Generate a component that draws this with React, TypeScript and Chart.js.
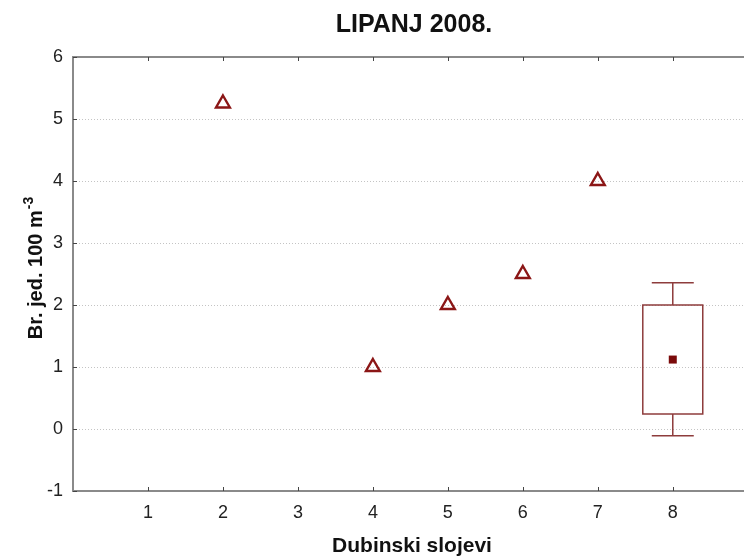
import React, { useEffect, useRef } from "react";
import { Chart, registerables } from "chart.js";

Chart.register(...registerables);

// ---- data ----
const CHART_TITLE = "LIPANJ 2008.";
const X_TITLE = "Dubinski slojevi";
const Y_TITLE_MAIN = "Br. jed. 100 m";
const Y_TITLE_SUP = "-3";

const X_TICKS = [1, 2, 3, 4, 5, 6, 7, 8];
const Y_TICKS = [-1, 0, 1, 2, 3, 4, 5, 6];
const X_MIN = 0;
const X_MAX = 8.95;
const Y_MIN = -1;
const Y_MAX = 6;

// layers with a single observation (drawn as triangles)
const SINGLE_X = [2, 4, 5, 6, 7];
const SINGLE_Y = [5.25, 1.0, 2.0, 2.5, 4.0];

// layer with a box (mean, box, whiskers)
const BOX_X = [8];
const BOX_LOW = [-0.11];
const BOX_Q1 = [0.24];
const BOX_Q3 = [2.0];
const BOX_HIGH = [2.36];
const BOX_MEAN = [1.12];

// ---- styles ----
const FONT = '"Liberation Sans", Arial, Helvetica, sans-serif';
const MARK_COLOR = "#8b1616";
const MEAN_COLOR = "#7a0a0a";
const BOX_COLOR = "#8e3c3c";
const FRAME_COLOR = "#8a8a8a";
const GRID_COLOR = "#c4c4c4";
const BOX_HALF_WIDTH = 0.4;
const CAP_HALF_WIDTH = 0.28;

const boxPlugin = {
  id: "boxWhisker",
  beforeDatasetsDraw(chart: any) {
    const { ctx, scales } = chart;
    const x = scales.x;
    const y = scales.y;
    ctx.save();
    ctx.strokeStyle = BOX_COLOR;
    ctx.lineWidth = 1.5;
    BOX_X.forEach((bx, i) => {
      const cx = x.getPixelForValue(bx);
      const half = x.getPixelForValue(bx + BOX_HALF_WIDTH) - cx;
      const capHalf = x.getPixelForValue(bx + CAP_HALF_WIDTH) - cx;
      const yq1 = y.getPixelForValue(BOX_Q1[i]);
      const yq3 = y.getPixelForValue(BOX_Q3[i]);
      const ylo = y.getPixelForValue(BOX_LOW[i]);
      const yhi = y.getPixelForValue(BOX_HIGH[i]);
      ctx.beginPath();
      ctx.rect(cx - half, yq3, 2 * half, yq1 - yq3);
      ctx.moveTo(cx, yq3);
      ctx.lineTo(cx, yhi);
      ctx.moveTo(cx - capHalf, yhi);
      ctx.lineTo(cx + capHalf, yhi);
      ctx.moveTo(cx, yq1);
      ctx.lineTo(cx, ylo);
      ctx.moveTo(cx - capHalf, ylo);
      ctx.lineTo(cx + capHalf, ylo);
      ctx.stroke();
    });
    ctx.restore();
  },
};

const framePlugin = {
  id: "frameAndTitles",
  afterDraw(chart: any) {
    const { ctx, chartArea, scales } = chart;
    const { left, right, top, bottom } = chartArea;
    const x = scales.x;
    const y = scales.y;
    ctx.save();
    // frame (left, top, bottom)
    ctx.strokeStyle = FRAME_COLOR;
    ctx.lineWidth = 2;
    ctx.beginPath();
    ctx.moveTo(right, top);
    ctx.lineTo(left, top);
    ctx.lineTo(left, bottom);
    ctx.lineTo(right, bottom);
    ctx.stroke();
    // inward tick marks
    ctx.strokeStyle = "#444";
    ctx.lineWidth = 1;
    ctx.beginPath();
    X_TICKS.forEach((v) => {
      const px = Math.round(x.getPixelForValue(v)) + 0.5;
      ctx.moveTo(px, bottom);
      ctx.lineTo(px, bottom - 4);
      ctx.moveTo(px, top);
      ctx.lineTo(px, top + 4);
    });
    Y_TICKS.forEach((v) => {
      const py = Math.round(y.getPixelForValue(v)) + 0.5;
      ctx.moveTo(left, py);
      ctx.lineTo(left + 4, py);
    });
    ctx.stroke();

    // chart title
    ctx.fillStyle = "#111";
    ctx.textAlign = "center";
    ctx.textBaseline = "alphabetic";
    ctx.font = `bold 25px ${FONT}`;
    ctx.fillText(CHART_TITLE, 414, 32);

    // x axis title
    ctx.font = `bold 21px ${FONT}`;
    ctx.fillText(X_TITLE, 412, 552);

    // y axis title (rotated, with superscript)
    ctx.font = `bold 20px ${FONT}`;
    const wMain = ctx.measureText(Y_TITLE_MAIN).width;
    ctx.font = `bold 14px ${FONT}`;
    const wSup = ctx.measureText(Y_TITLE_SUP).width;
    const total = wMain + wSup + 1;
    ctx.translate(42, 268);
    ctx.rotate(-Math.PI / 2);
    ctx.textAlign = "left";
    ctx.font = `bold 20px ${FONT}`;
    ctx.fillText(Y_TITLE_MAIN, -total / 2, 0);
    ctx.font = `bold 14px ${FONT}`;
    ctx.fillText(Y_TITLE_SUP, -total / 2 + wMain + 1, -9);
    ctx.restore();
  },
};

export default function App() {
  const canvasRef = useRef<HTMLCanvasElement | null>(null);

  useEffect(() => {
    const canvas = canvasRef.current;
    if (!canvas) return;
    const chart = new Chart(canvas, {
      type: "scatter",
      data: {
        datasets: [
          {
            label: "single",
            data: SINGLE_X.map((v, i) => ({ x: v, y: SINGLE_Y[i] })),
            pointStyle: "triangle",
            pointRadius: 8,
            pointHoverRadius: 8,
            borderWidth: 2.4,
            borderColor: MARK_COLOR,
            backgroundColor: "rgba(0,0,0,0)",
            showLine: false,
          },
          {
            label: "mean",
            data: BOX_X.map((v, i) => ({ x: v, y: BOX_MEAN[i] })),
            pointStyle: "rect",
            pointRadius: 5.66,
            pointHoverRadius: 5.66,
            borderWidth: 0,
            borderColor: MEAN_COLOR,
            backgroundColor: MEAN_COLOR,
            showLine: false,
          },
        ],
      },
      options: {
        responsive: false,
        animation: false,
        devicePixelRatio: 1,
        events: [],
        layout: { autoPadding: false, padding: { top: 57, left: 0, right: 0, bottom: 0 } },
        plugins: {
          legend: { display: false },
          tooltip: { enabled: false },
          title: { display: false },
        },
        scales: {
          x: {
            type: "linear",
            position: "bottom",
            min: X_MIN,
            max: X_MAX,
            afterBuildTicks: (s: any) => {
              s.ticks = X_TICKS.map((v) => ({ value: v }));
            },
            afterFit: (s: any) => {
              s.height = 67;
              s.paddingLeft = 0;
              s.paddingRight = 0;
            },
            grid: { display: false, drawTicks: false },
            border: { display: false },
            ticks: {
              padding: 11,
              color: "#222",
              font: { family: FONT, size: 18 },
              callback: (v: any) => String(v),
            },
          },
          y: {
            type: "linear",
            position: "left",
            min: Y_MIN,
            max: Y_MAX,
            afterBuildTicks: (s: any) => {
              s.ticks = Y_TICKS.map((v) => ({ value: v }));
            },
            afterFit: (s: any) => {
              s.width = 73;
              s.paddingTop = 0;
              s.paddingBottom = 0;
            },
            grid: {
              display: true,
              drawTicks: false,
              color: GRID_COLOR,
              lineWidth: 1,
            },
            border: { display: false, dash: [1, 2] },
            ticks: {
              padding: 10,
              color: "#222",
              font: { family: FONT, size: 18 },
              callback: (v: any) => String(v),
            },
          },
        },
      },
      plugins: [boxPlugin, framePlugin],
    } as any);
    return () => chart.destroy();
  }, []);

  return (
    <div style={{ position: "fixed", left: 0, top: 0, width: 744, height: 558, background: "#fff" }}>
      <canvas ref={canvasRef} width={744} height={558} />
    </div>
  );
}
